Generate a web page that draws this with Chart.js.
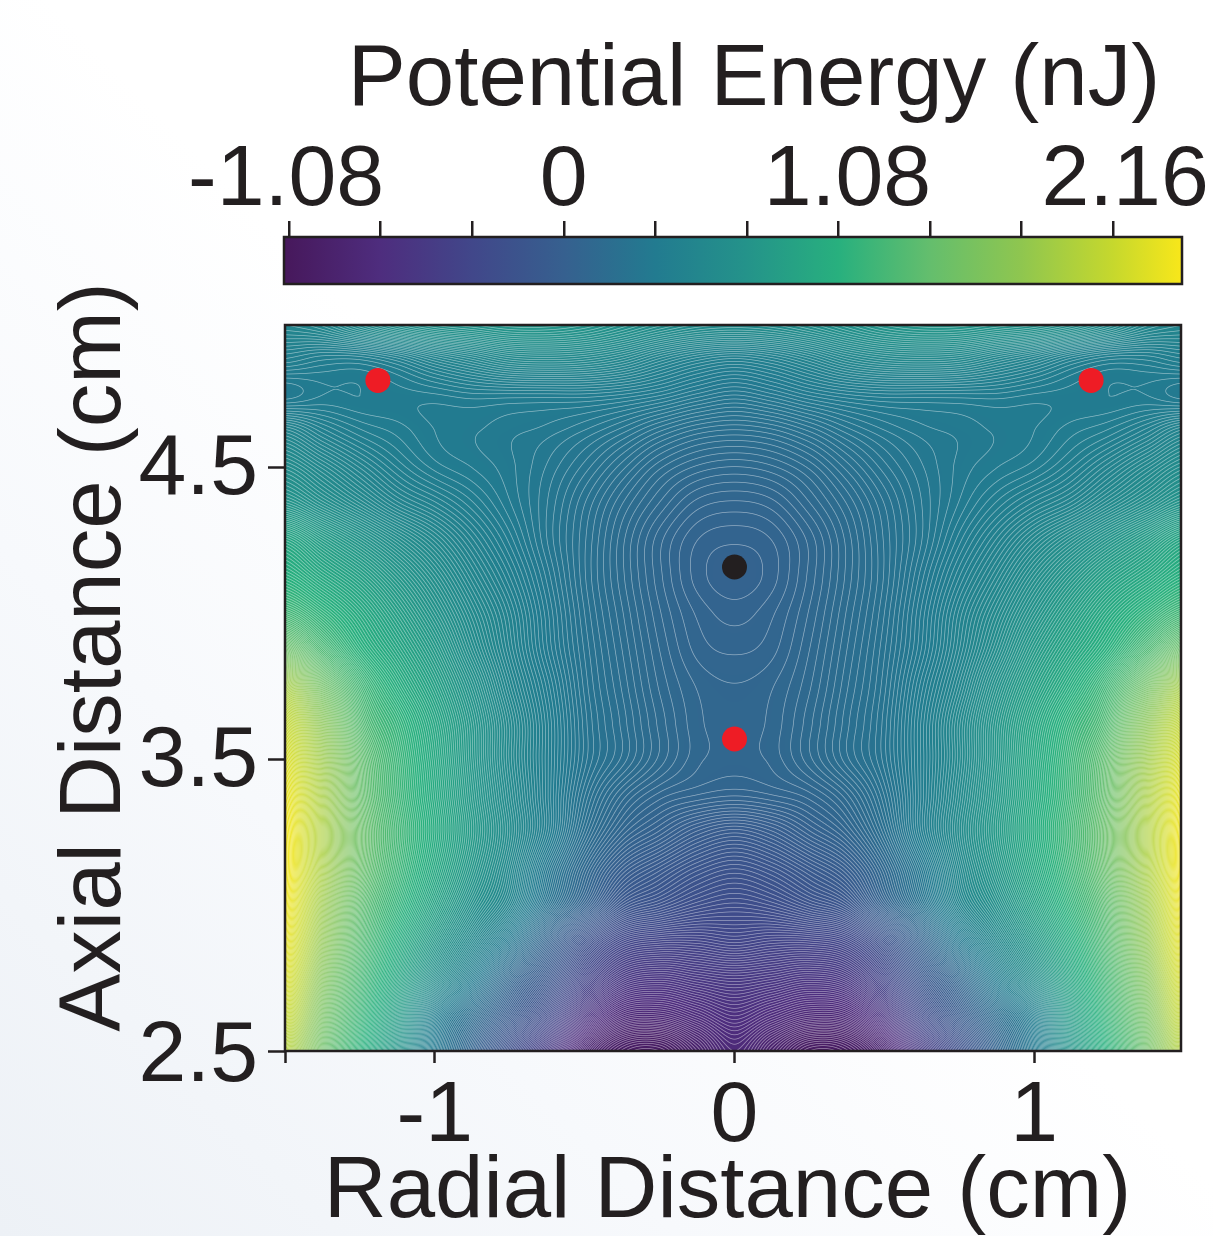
<!DOCTYPE html>
<html>
<head>
<meta charset="utf-8">
<script src="https://cdn.jsdelivr.net/npm/chart.js@4/dist/chart.umd.js"></script>
<style>
html,body{margin:0;padding:0;width:1213px;height:1236px;overflow:hidden;
background:linear-gradient(to top right,#edf1f6 0%,#f7f9fc 28%,#ffffff 52%);}
canvas{position:absolute;left:0;top:0;display:block;}
</style>
</head>
<body>
<canvas id="bar" width="1213" height="300"></canvas>
<canvas id="map" width="1213" height="1236"></canvas>
<script>
const colorbarTitle = 'Potential Energy (nJ)';
const xTitle = 'Radial Distance (cm)';
const yTitle = 'Axial Distance (cm)';
const colorbarTicks = [-1.08,-0.72,-0.36,0,0.36,0.72,1.08,1.44,1.80,2.16];
const colorbarLabels = {'-1.08':'-1.08','0':'0','1.08':'1.08','2.16':'2.16'};
const stopValues = [-1.10,-1.08,-0.72,-0.36,0,0.36,0.72,1.08,1.44,1.80,2.16,2.431];
const stopColors = ['#47185c','#47195d','#4e2d7e','#41478a','#36608f','#227b90','#24938a','#28b07e','#64be6d','#8fc64f','#c6d82d','#f8e71a'];
const xTicks = [-1.5,-1,0,1];
const yTicks = [2.5,3.5,4.5];
const radial = [-1.5,-1.375,-1.25,-1.125,-1,-0.875,-0.75,-0.625,-0.5,-0.375,-0.25,-0.125,0,0.125,0.25,0.375,0.5,0.625,0.75,0.875,1,1.125,1.25,1.375,1.5];
const axial = [5,4.875,4.75,4.625,4.5,4.375,4.25,4.125,4,3.875,3.75,3.625,3.5,3.375,3.25,3.125,3,2.875,2.75,2.625,2.5];
const energy = [
[.52,.55,.62,.68,.72,.74,.76,.76,.74,.70,.66,.63,.62,.63,.66,.70,.74,.76,.76,.74,.72,.68,.62,.55,.52],
[.42,.40,.40,.43,.48,.52,.56,.57,.56,.53,.48,.44,.42,.44,.48,.53,.56,.57,.56,.52,.48,.43,.40,.40,.42],
[.34,.36,.36,.365,.37,.38,.38,.38,.38,.37,.35,.32,.30,.32,.35,.37,.38,.38,.38,.38,.37,.365,.36,.36,.34],
[.50,.44,.40,.38,.36,.35,.34,.33,.31,.28,.24,.21,.20,.21,.24,.28,.31,.33,.34,.35,.36,.38,.40,.44,.50],
[.62,.55,.48,.42,.38,.36,.34,.31,.27,.22,.17,.14,.13,.14,.17,.22,.27,.31,.34,.36,.38,.42,.48,.55,.62],
[.74,.66,.58,.50,.45,.40,.35,.30,.24,.18,.13,.09,.08,.09,.13,.18,.24,.30,.35,.40,.45,.50,.58,.66,.74],
[.95,.84,.74,.64,.55,.46,.38,.30,.23,.16,.10,.06,.05,.06,.10,.16,.23,.30,.38,.46,.55,.64,.74,.84,.95],
[1.08,.98,.88,.76,.64,.52,.42,.32,.23,.16,.10,.055,.04,.055,.10,.16,.23,.32,.42,.52,.64,.76,.88,.98,1.08],
[1.25,1.13,1.0,.86,.72,.58,.46,.34,.24,.17,.11,.07,.055,.07,.11,.17,.24,.34,.46,.58,.72,.86,1.0,1.13,1.25],
[1.52,1.30,1.10,.95,.80,.63,.48,.35,.25,.18,.12,.08,.07,.08,.12,.18,.25,.35,.48,.63,.80,.95,1.10,1.30,1.52],
[1.95,1.55,1.25,1.05,.88,.70,.52,.38,.26,.19,.13,.095,.085,.095,.13,.19,.26,.38,.52,.70,.88,1.05,1.25,1.55,1.95],
[2.15,1.75,1.35,1.15,.95,.75,.56,.40,.27,.20,.14,.10,.09,.10,.14,.20,.27,.40,.56,.75,.95,1.15,1.35,1.75,2.15],
[2.28,1.88,1.45,1.20,.98,.76,.56,.40,.27,.20,.14,.10,.09,.10,.14,.20,.27,.40,.56,.76,.98,1.20,1.45,1.88,2.28],
[2.37,1.95,1.48,1.22,1.0,.78,.58,.40,.24,.14,.09,.07,.06,.07,.09,.14,.24,.40,.58,.78,1.0,1.22,1.48,1.95,2.37],
[2.42,1.98,1.52,1.25,1.02,.80,.60,.40,.20,.08,.02,-.04,-.07,-.04,.02,.08,.20,.40,.60,.80,1.02,1.25,1.52,1.98,2.42],
[2.43,1.96,1.50,1.22,.98,.76,.56,.32,.12,-.02,-.09,-.15,-.18,-.15,-.09,-.02,.12,.32,.56,.76,.98,1.22,1.50,1.96,2.43],
[2.40,1.88,1.42,1.15,.90,.68,.50,.25,.04,-.14,-.20,-.25,-.27,-.25,-.20,-.14,.04,.25,.50,.68,.90,1.15,1.42,1.88,2.40],
[2.35,1.80,1.36,1.05,.78,.55,.32,.05,-.20,-.36,-.40,-.40,-.38,-.40,-.40,-.36,-.20,.05,.32,.55,.78,1.05,1.36,1.80,2.35],
[2.28,1.70,1.28,.96,.64,.38,.10,-.12,-.38,-.56,-.60,-.57,-.55,-.57,-.60,-.56,-.38,-.12,.10,.38,.64,.96,1.28,1.70,2.28],
[2.18,1.60,1.20,.84,.42,.18,-.06,-.30,-.60,-.78,-.80,-.74,-.68,-.74,-.80,-.78,-.60,-.30,-.06,.18,.42,.84,1.20,1.60,2.18],
[2.05,1.52,1.12,.74,.33,.05,-.24,-.52,-.84,-1.0,-1.02,-.90,-.78,-.90,-1.02,-1.0,-.84,-.52,-.24,.05,.33,.74,1.12,1.52,2.05]
];
const redX = [-1.19,1.19,0];
const redY = [4.80,4.80,3.57];
const blackX = [0];
const blackY = [4.16];

const ink = '#231f20';
const fontFamily = '"Liberation Sans", Arial, sans-serif';
const contourStep = 0.012, contourAlpha = 0.35, contourWidth = 0.7;

function hex(c){return [parseInt(c.slice(1,3),16),parseInt(c.slice(3,5),16),parseInt(c.slice(5,7),16)];}
function colorOf(v){
  if(v<=stopValues[0]) return hex(stopColors[0]);
  for(let i=1;i<stopValues.length;i++){
    if(v<=stopValues[i]){
      const t=(v-stopValues[i-1])/(stopValues[i]-stopValues[i-1]);
      const a=hex(stopColors[i-1]),b=hex(stopColors[i]);
      return [a[0]+(b[0]-a[0])*t,a[1]+(b[1]-a[1])*t,a[2]+(b[2]-a[2])*t];
    }
  }
  return hex(stopColors[stopColors.length-1]);
}
function catmull(a,b,c,d,t){
  return b+0.5*t*(c-a+t*(2*a-5*b+4*c-d+t*(3*(b-c)+d-a)));
}
function gridPos(list,val){
  return (val-list[0])/(list[1]-list[0]);
}
function sampleEnergy(u,v){
  const nr=energy.length,nc=energy[0].length;
  const i=Math.min(nr-2,Math.max(0,Math.floor(v))),j=Math.min(nc-2,Math.max(0,Math.floor(u)));
  const tv=v-i,tu=u-j,row=[];
  for(let k=-1;k<=2;k++){
    const r=energy[Math.min(nr-1,Math.max(0,i+k))];
    row.push(catmull(r[Math.max(0,j-1)],r[j],r[j+1],r[Math.min(nc-1,j+2)],tu));
  }
  return catmull(row[0],row[1],row[2],row[3],tv);
}

const heatmapPlugin = {
  id:'heatmap',
  beforeDatasetsDraw(chart){
    const a=chart.chartArea,xs=chart.scales.x,ys=chart.scales.y;
    const w=Math.round(a.right-a.left),h=Math.round(a.bottom-a.top);
    const field=new Float32Array((w+2)*(h+2));
    for(let py=0;py<h+2;py++){
      const v=gridPos(axial,ys.getValueForPixel(a.top+py-0.5));
      for(let px=0;px<w+2;px++){
        const u=gridPos(radial,xs.getValueForPixel(a.left+px-0.5));
        field[py*(w+2)+px]=sampleEnergy(u,v);
      }
    }
    const lut=[];
    for(let i=0;i<=1024;i++) lut.push(colorOf(-1.2+3.7*i/1024));
    const off=document.createElement('canvas');off.width=w;off.height=h;
    const oc=off.getContext('2d'),img=oc.createImageData(w,h);
    for(let py=0;py<h;py++){
      for(let px=0;px<w;px++){
        const idx=(py+1)*(w+2)+px+1,val=field[idx];
        const gx=(field[idx+1]-field[idx-1])/2,gy=(field[idx+w+2]-field[idx-w-2])/2;
        const g=Math.max(1e-5,Math.hypot(gx,gy));
        const f=val/contourStep,dist=Math.abs(f-Math.round(f))*contourStep/g;
        const cov=Math.max(0,Math.min(contourWidth,contourWidth/2+0.5-dist));
        const al=cov/contourWidth*contourAlpha;
        const c=lut[Math.max(0,Math.min(1024,Math.round((val+1.2)/3.7*1024)))];
        const o=(py*w+px)*4;
        img.data[o]=c[0]+(255-c[0])*al;
        img.data[o+1]=c[1]+(255-c[1])*al;
        img.data[o+2]=c[2]+(255-c[2])*al;
        img.data[o+3]=255;
      }
    }
    oc.putImageData(img,0,0);
    chart.ctx.drawImage(off,a.left,a.top);
  },
  afterDatasetsDraw(chart){
    const a=chart.chartArea,c=chart.ctx;
    c.save();c.strokeStyle=ink;c.lineWidth=2.5;
    c.strokeRect(a.left,a.top,a.right-a.left,a.bottom-a.top);
    c.restore();
  }
};
const gradientPlugin = {
  id:'gradientBar',
  beforeDatasetsDraw(chart){
    const a=chart.chartArea,xs=chart.scales.x,c=chart.ctx;
    const g=c.createLinearGradient(a.left,0,a.right,0);
    stopValues.forEach((v,i)=>g.addColorStop(Math.max(0,Math.min(1,(xs.getPixelForValue(v)-a.left)/(a.right-a.left))),stopColors[i]));
    c.save();c.fillStyle=g;c.fillRect(a.left,a.top,a.right-a.left,a.bottom-a.top);
    c.strokeStyle=ink;c.lineWidth=2.5;c.strokeRect(a.left,a.top,a.right-a.left,a.bottom-a.top);c.restore();
  }
};
function textPlugin(items){
  return {id:'axisText',afterDraw(chart){
    const c=chart.ctx;
    c.save();c.fillStyle=ink;c.textAlign='center';c.textBaseline='alphabetic';
    items.forEach(t=>{
      c.save();c.font=t.size+'px '+fontFamily;c.translate(t.x,t.y);
      if(t.rot)c.rotate(t.rot);c.fillText(t.text,0,0);c.restore();
    });
    c.restore();
  }};
}
function nudgePlugin(axis,moves){
  return {id:'labelNudge',afterLayout(chart){
    chart.scales[axis].getLabelItems().forEach(it=>{
      const m=moves[it.label];
      if(m){const t=it.options.translation;it.options.translation=[t[0]+m[0],t[1]+m[1]];}
    });
  }};
}

new Chart(document.getElementById('bar'),{
  type:'scatter',
  data:{datasets:[{data:stopValues.map(v=>({x:v,y:0})),pointRadius:0,showLine:false}]},
  options:{
    responsive:false,animation:false,
    layout:{padding:{left:284,right:31,top:0,bottom:16}},
    plugins:{legend:{display:false},tooltip:{enabled:false}},
    scales:{
      x:{type:'linear',position:'top',min:-1.10,max:2.431,
        afterFit(s){s.height=237;},
        afterBuildTicks(s){s.ticks=colorbarTicks.map(v=>({value:v}));},
        border:{display:false},
        grid:{drawOnChartArea:false,color:ink,lineWidth:2.5,tickColor:ink,tickWidth:2.5,tickLength:16},
        ticks:{autoSkip:false,maxRotation:0,minRotation:0,padding:-3,color:ink,
          font:{family:fontFamily,size:86,lineHeight:1},
          callback:v=>colorbarLabels[String(v)]??''}},
      y:{display:false,min:-1,max:1}
    }
  },
  plugins:[gradientPlugin,
    nudgePlugin('x',{'-1.08':[-3,0],'1.08':[9,0],'2.16':[12,0]}),
    textPlugin([{text:colorbarTitle,size:87,x:754,y:105}])]
});

const heatPoints = [];
axial.forEach((y,i)=>radial.forEach((x,j)=>heatPoints.push({x,y,v:energy[i][j]})));

new Chart(document.getElementById('map'),{
  type:'scatter',
  data:{datasets:[
    {label:'Energy',data:heatPoints,pointRadius:0,showLine:false},
    {label:'Red',data:redX.map((x,i)=>({x,y:redY[i]})),pointRadius:12.5,pointBackgroundColor:'#ee1c25',pointBorderWidth:0,clip:false},
    {label:'Black',data:blackX.map((x,i)=>({x,y:blackY[i]})),pointRadius:12.5,pointBackgroundColor:ink,pointBorderWidth:0,clip:false}
  ]},
  options:{
    responsive:false,animation:false,
    layout:{padding:{left:0,right:32,top:325,bottom:0}},
    plugins:{legend:{display:false},tooltip:{enabled:false}},
    scales:{
      x:{type:'linear',position:'bottom',min:-1.5,max:1.49,
        afterFit(s){s.height=185;},
        afterBuildTicks(s){s.ticks=xTicks.map(v=>({value:v}));},
        border:{display:false},
        grid:{drawOnChartArea:false,color:ink,tickColor:ink,tickWidth:2.5,tickLength:12},
        ticks:{autoSkip:false,maxRotation:0,minRotation:0,padding:11,color:ink,
          font:{family:fontFamily,size:86,lineHeight:1},
          callback:v=>v===-1.5?'':String(v)}},
      y:{type:'linear',position:'left',min:2.5,max:4.99,
        afterFit(s){s.width=285;},
        afterBuildTicks(s){s.ticks=yTicks.map(v=>({value:v}));},
        border:{display:false},
        grid:{drawOnChartArea:false,color:ink,tickColor:ink,tickWidth:2.5,tickLength:17},
        ticks:{autoSkip:false,padding:10,color:ink,
          font:{family:fontFamily,size:86,lineHeight:1},
          callback:v=>v.toFixed(1)}}
    }
  },
  plugins:[heatmapPlugin,
    nudgePlugin('y',{'2.5':[0,6],'3.5':[0,3],'4.5':[0,2]}),
    textPlugin([
      {text:xTitle,size:87,x:727.5,y:1217},
      {text:yTitle,size:87,x:120,y:657,rot:-Math.PI/2}
    ])]
});
</script>
</body>
</html>
